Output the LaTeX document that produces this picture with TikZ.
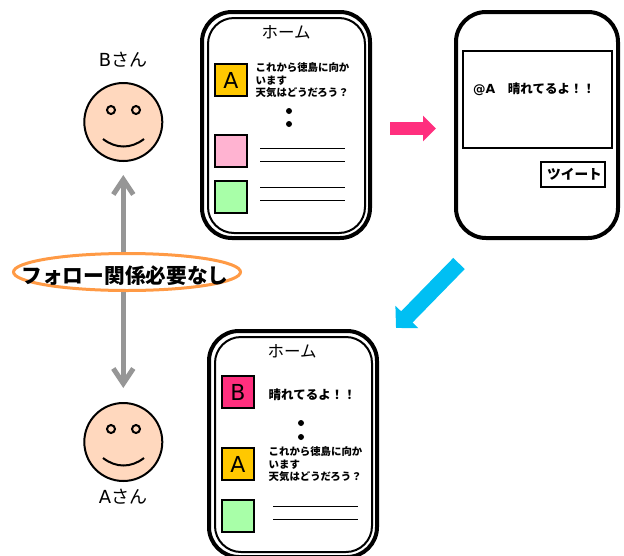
\documentclass[tikz,border=0pt]{standalone}
\usepackage{fontspec}
\setmainfont{DejaVu Sans}
\newfontfamily\cjk{Noto Sans CJK JP}
\usetikzlibrary{arrows.meta, positioning, shapes.geometric}
\definecolor{skin}{HTML}{FFD8BE}
\definecolor{rosy}{HTML}{FF2F7E}
\definecolor{amber}{HTML}{FFC800}
\definecolor{palepink}{HTML}{FFB3D1}
\definecolor{palegreen}{HTML}{A8FFA8}
\definecolor{skyblue}{HTML}{00BFF3}
\definecolor{ovalorange}{HTML}{FF9A45}
\definecolor{midgray}{HTML}{969696}

\begin{document}
\begin{tikzpicture}[x=1pt,y=-1pt,
  phone/.style={draw,line width=4pt,rounded corners=30pt,minimum width=168pt,minimum height=226pt,inner sep=0pt},
  screen/.style={draw,line width=2pt,rounded corners=26pt,minimum width=157pt,minimum height=215pt,inner sep=0pt},
  face/.style={draw,circle,line width=2pt,fill=skin,minimum size=78pt,inner sep=0pt},
  icon/.style={draw,line width=2pt,minimum size=32pt,inner sep=0pt,font=\fontsize{22}{22}\selectfont},
  title/.style={inner sep=0pt,font=\cjk\fontsize{16.5}{16.5}\selectfont},
  tweet/.style={anchor=west,align=left,inner sep=0pt,font=\cjk\bfseries\fontsize{10.4}{12.5}\selectfont},
  follow/.style={->,>={Straight Barb[length=15pt,width=20pt]},draw=midgray,line width=5pt},
  ruleline/.style={line width=1pt}]
  \useasboundingbox (0,0) rectangle (624,555);

  % Follow oval
  \node[draw=ovalorange,fill=white,ellipse,line width=3pt,minimum width=227pt,minimum height=37pt,inner sep=0pt] (oval) at (127,272) {};
  \node[inner sep=0pt,font=\cjk\bfseries\fontsize{20.7}{20.7}\selectfont] (ovaltext) at (125,276) {フォロー関係必要なし};

  % Faces
  \node[face] (faceb) at (123.3,122) {};
  \node[face] (facea) at (123.3,442) {};
  \node[title,font=\fontsize{18}{18}\selectfont] (nameb) at (123,60) {B{\cjk さん}};
  \node[title,font=\fontsize{18}{18}\selectfont] (namea) at (123,497) {A{\cjk さん}};
  \foreach \eyey/\smiley in {110/139, 429/458} {
    \draw[line width=2pt] (111,\eyey) circle (4pt);
    \draw[line width=2pt] (136,\eyey) circle (4pt);
    \draw[line width=2pt] (103,\smiley) .. controls (116,\smiley+10) and (131,\smiley+10) .. (144,\smiley);
  }

  % Gray arrows
  \draw[follow,shorten >=13pt] (oval.north -| faceb.south) -- (faceb.south);
  \draw[follow,shorten >=14pt] (oval.south -| facea.north) -- (facea.north);

  % Home timeline before the tweet
  \node[phone] (phonehome) at (286,125) {};
  \node[screen] (screenhome) at (286.5,125.5) {};
  \node[title] (titlehome) at (286,32) {ホーム};
  \node[icon,fill=amber] (iconone) at (231,80) {A};
  \node[icon,fill=palepink] (icontwo) at (231,151) {};
  \node[icon,fill=palegreen] (iconthree) at (231,197) {};
  \node[tweet] (tweetone) at (255.5,80.5) {これから徳島に向か\\います\\天気はどうだろう？};
  \fill (289,111) circle (3pt) (289,124) circle (3pt);
  \foreach \liney in {148,161,187,200}
    \draw[ruleline] (260,\liney) -- (345,\liney);

  % Compose screen
  \node[phone,minimum width=162pt] (phonepost) at (537,125) {};
  \node[draw,line width=2pt,minimum width=149pt,minimum height=97pt,inner sep=0pt] (postbox) at (537,99.5) {};
  \node[anchor=west,inner sep=0pt,font=\bfseries\fontsize{12.5}{12.5}\selectfont] (posttext) at (473,89) {@A{\cjk　晴れてるよ！！}};
  \node[draw,line width=2pt,minimum width=64pt,minimum height=25pt,inner sep=0pt,font=\cjk\bfseries\fontsize{13.7}{13.7}\selectfont] (postbutton) at (573,174.5) {\hspace*{3pt}ツイート};

  % Home timeline after the tweet
  \node[phone] (phonenew) at (293,444) {};
  \node[screen] (screennew) at (293.5,444.5) {};
  \node[title] (titlenew) at (292,351) {ホーム};
  \node[icon,fill=rosy] (iconb) at (238,392) {B};
  \node[icon,fill=amber] (icona) at (238,464) {A};
  \node[icon,fill=palegreen] (iconlast) at (238,516) {};
  \node[tweet,font=\cjk\bfseries\fontsize{12.5}{12.5}\selectfont] (tweetnew) at (268.5,395) {晴れてるよ！！};
  \node[tweet] (tweetold) at (268.5,464.5) {これから徳島に向か\\います\\天気はどうだろう？};
  \fill (301,423) circle (3pt) (301,437) circle (3pt);
  \foreach \liney in {506,519}
    \draw[ruleline] (273,\liney) -- (358,\liney);

  % Block arrows
  \coordinate (pinkstart) at (390,128.5);
  \coordinate (pinkend) at (436,128.5);
  \draw[-{Triangle[length=13pt,width=25pt]},draw=rosy,fill=rosy,line width=13pt] (pinkstart) -- (pinkend);
  \coordinate (bluestart) at (459,263.5);
  \coordinate (blueend) at (396,328);
  \draw[-{Triangle[length=15.5pt,width=31pt]},draw=skyblue,fill=skyblue,line width=16pt] (bluestart) -- (blueend);
\end{tikzpicture}
\end{document}
